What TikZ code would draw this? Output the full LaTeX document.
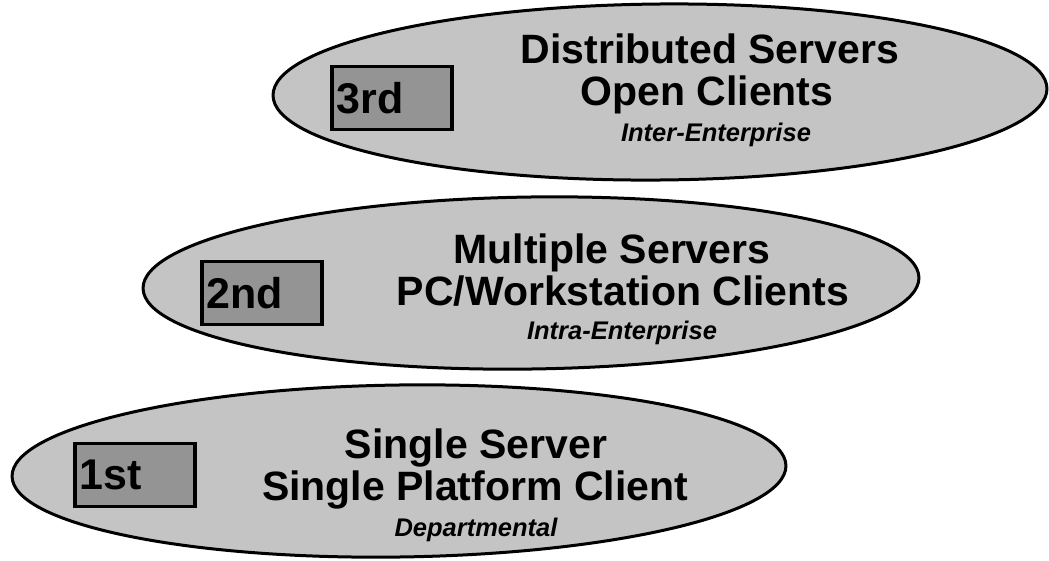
\documentclass[tikz,border=0pt]{standalone}
\usepackage{fontspec}
\setmainfont{Liberation Sans}
\usetikzlibrary{shapes.geometric}
\definecolor{ellfill}{gray}{0.77}
\definecolor{boxfill}{gray}{0.58}
\tikzset{
  oval/.style={ellipse, draw=black, line width=3pt, fill=ellfill, inner sep=0pt},
  genbox/.style={draw=black, line width=3.2pt, fill=boxfill, inner sep=0pt,
    minimum width=120pt, minimum height=63pt, text width=111pt, align=left,
    font=\fontsize{43}{43}\selectfont\bfseries},
  mainline/.style={anchor=base, font=\fontsize{41}{41}\selectfont\bfseries, inner sep=0pt},
  subline/.style={anchor=base, font=\fontsize{25.5}{25.5}\selectfont\bfseries\itshape, inner sep=0pt}
}
\begin{document}
\begin{tikzpicture}[x=1pt,y=-1pt]
\useasboundingbox (0,0) rectangle (1049,560);
% third generation
\node[oval, rotate=0.5, minimum width=774pt, minimum height=176pt] (e3) at (660,92) {};
\node[genbox] (b3) at (392,98) {3rd};
\node[mainline] (t3a) at (710,63) {Distributed Servers};
\node[mainline] (t3b) at (707,105) {Open Clients};
\node[subline] (t3c) at (716,141) {Inter-Enterprise};
% second generation
\node[oval, rotate=0.8, minimum width=776pt, minimum height=172pt] (e2) at (531,283) {};
\node[genbox] (b2) at (262,293) {2nd};
\node[mainline] (t2a) at (612,263) {Multiple Servers};
\node[mainline] (t2b) at (623,305) {PC/Workstation Clients};
\node[subline] (t2c) at (622,339) {Intra-Enterprise};
% first generation
\node[oval, rotate=0.8, minimum width=774pt, minimum height=172pt] (e1) at (399,471) {};
\node[genbox] (b1) at (135,475) {1st};
\node[mainline] (t1a) at (476,458) {Single Server};
\node[mainline] (t1b) at (475,500) {Single Platform Client};
\node[subline] (t1c) at (476,536) {Departmental};
\end{tikzpicture}
\end{document}
